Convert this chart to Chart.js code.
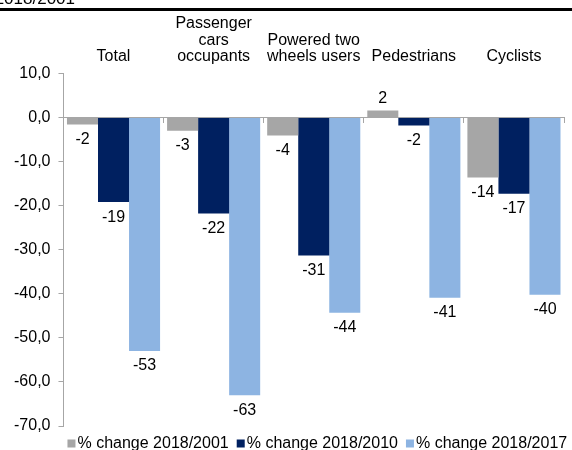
<!DOCTYPE html>
<html>
<head>
<meta charset="utf-8">
<script src="https://cdn.jsdelivr.net/npm/chart.js@4"></script>
<style>
  html, body { margin: 0; padding: 0; background: #fff; }
  #wrap { width: 572px; height: 450px; }
</style>
</head>
<body>
<div id="wrap"><canvas id="roadChart"></canvas></div>
<script>
const categories = ['Total', ['Passenger', 'cars', 'occupants'], ['Powered two', 'wheels users'], 'Pedestrians', 'Cyclists'];
const change2001 = [-1.6, -3.0, -4.1, 1.6, -13.6];
const change2010 = [-19.2, -21.8, -31.3, -1.8, -17.3];
const change2017 = [-53.0, -63.0, -44.3, -40.9, -40.2];
const seriesNames = ['% change 2018/2001', '% change 2018/2010', '% change 2018/2017'];
const yMin = -70, yMax = 10, yStep = 10;

const font = "'Liberation Sans', Arial, sans-serif";
Chart.defaults.font.family = font;
Chart.defaults.font.size = 16;
Chart.defaults.color = '#000';

// cut off heading above the chart
const headerLine = {
  id: 'headerLine',
  beforeDraw(chart) {
    const c = chart.ctx;
    c.save();
    c.fillStyle = '#000';
    c.font = '17px ' + font;
    c.textAlign = 'right';
    c.textBaseline = 'alphabetic';
    c.fillText('2018/2001', 75, 4);
    c.fillRect(0, 8, 572, 3);
    c.restore();
  }
};

// value labels under / above each bar
const valueLabels = {
  id: 'valueLabels',
  afterDatasetsDraw(chart) {
    const c = chart.ctx;
    c.save();
    c.fillStyle = '#000';
    c.font = '16px ' + font;
    c.textAlign = 'center';
    c.textBaseline = 'middle';
    chart.data.datasets.forEach((ds, i) => {
      chart.getDatasetMeta(i).data.forEach((bar, j) => {
        const v = ds.data[j];
        const y = v < 0 ? bar.y + 15 : bar.y - 12;
        c.fillText(Math.round(v), bar.x, y);
      });
    });
    c.restore();
  }
};

// compact legend like the excel one (small square, text right next to it)
const smallLegend = {
  id: 'smallLegend',
  afterDraw(chart) {
    const c = chart.ctx;
    c.save();
    c.font = '16px ' + font;
    c.textBaseline = 'middle';
    let x = chart.chartArea.left + 4;
    const y = 443.5;
    chart.data.datasets.forEach(ds => {
      c.fillStyle = ds.backgroundColor;
      c.fillRect(x, y - 4, 8, 8);
      x += 10;
      c.fillStyle = '#000';
      c.fillText(ds.label, x, y);
      x += c.measureText(ds.label).width + 8;
    });
    c.restore();
  }
};

new Chart(document.getElementById('roadChart'), {
  type: 'bar',
  data: {
    labels: categories,
    datasets: [
      { label: seriesNames[0], data: change2001, backgroundColor: '#a6a6a6' },
      { label: seriesNames[1], data: change2010, backgroundColor: '#002060' },
      { label: seriesNames[2], data: change2017, backgroundColor: '#8db4e2' }
    ]
  },
  options: {
    responsive: true,
    maintainAspectRatio: false,
    animation: false,
    categoryPercentage: 0.93,
    barPercentage: 1.0,
    layout: { padding: { top: 15, left: 6, right: 8, bottom: 24 } },
    plugins: {
      tooltip: { enabled: false },
      legend: { display: false }
    },
    scales: {
      x: {
        type: 'category',
        position: { y: 0 },
        offset: true,
        ticks: { display: false },
        grid: { offset: true, drawOnChartArea: false, drawTicks: true, tickLength: 5, color: '#a6a6a6' },
        border: { display: true, color: '#a6a6a6' }
      },
      xTop: {
        type: 'category',
        position: 'top',
        offset: true,
        ticks: { padding: 0, maxRotation: 0, font: { size: 16, lineHeight: 1.05 } },
        grid: { display: false },
        border: { display: false }
      },
      y: {
        min: yMin,
        max: yMax,
        ticks: {
          stepSize: yStep,
          padding: 8,
          callback: v => v.toFixed(1).replace('.', ',')
        },
        grid: { drawOnChartArea: false, tickLength: 5, color: '#a6a6a6', tickColor: '#a6a6a6' },
        border: { display: true, color: '#a6a6a6' }
      }
    }
  },
  plugins: [headerLine, valueLabels, smallLegend]
});
</script>
</body>
</html>
